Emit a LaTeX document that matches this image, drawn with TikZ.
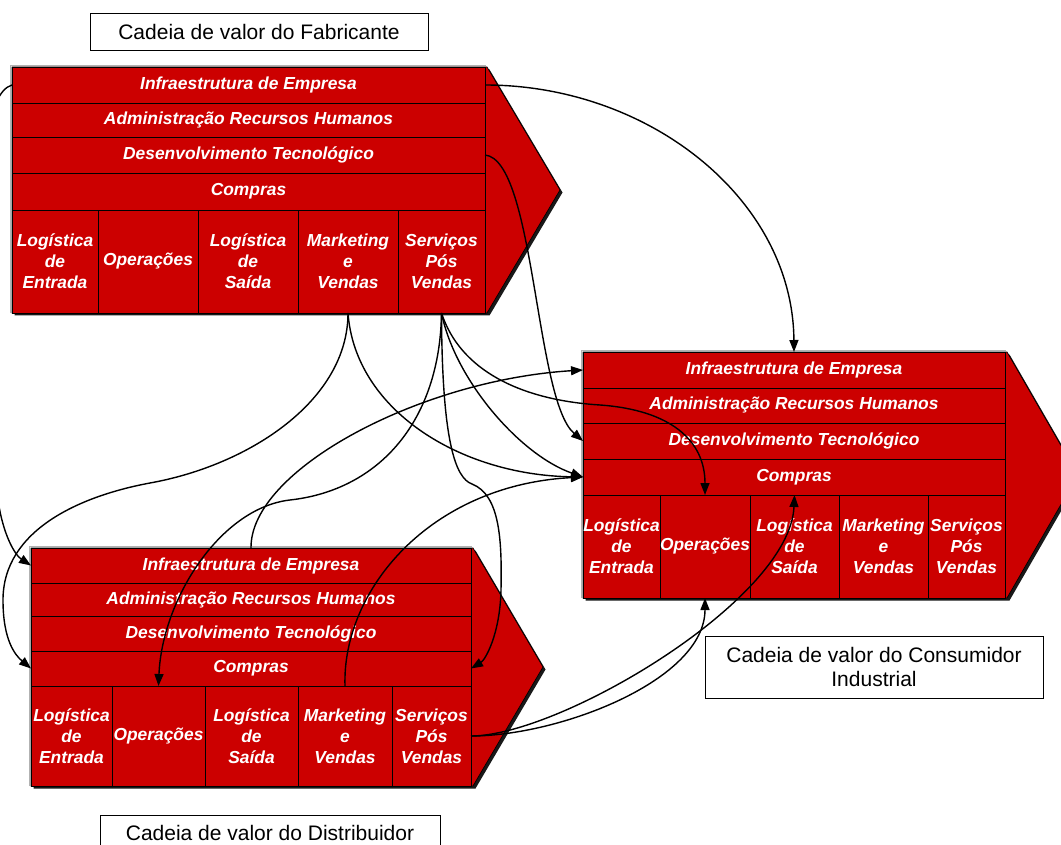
\documentclass[tikz,border=0pt]{standalone}
\usepackage{fontspec}
\setmainfont{Liberation Sans}
\usetikzlibrary{arrows.meta,calc}
\definecolor{chainred}{HTML}{CC0000}

\tikzset{
  cell/.style={draw=black, line width=0.7pt, fill=chainred, text=white,
    inner sep=0pt, outer sep=0pt, align=center,
    font=\fontsize{17.4}{20.8}\selectfont\bfseries\itshape},
  caption/.style={draw=black, line width=0.8pt, fill=white, inner sep=0pt,
    outer sep=0pt, align=center, font=\fontsize{21}{24}\selectfont},
  link/.style={line width=1.4pt, -{Triangle[length=12pt,width=9pt]}},
}

% one cell of a value chain: name, x1, y1, x2, y2, text
\newcommand\vccell[6]{%
  \node[cell, minimum width={#4-#2}, minimum height={#5-#3}] (#1)
    at ({(#2+#4)/2},{(#3+#5)/2}) {#6};}

\def\vcgetx#1,#2,#3,#4,#5,#6\relax{%
  \def\vcXa{#1}\def\vcXb{#2}\def\vcXc{#3}\def\vcXd{#4}\def\vcXe{#5}\def\vcXf{#6}}
\def\vcgety#1,#2,#3,#4,#5,#6\relax{%
  \def\vcYa{#1}\def\vcYb{#2}\def\vcYc{#3}\def\vcYd{#4}\def\vcYe{#5}\def\vcYf{#6}}

% Porter value chain: prefix, column stops, row stops, tip of the chevron
\newcommand\valuechain[4]{%
  \vcgetx#2\relax
  \vcgety#3\relax
  % drop shadow
  \fill[black!90] (\vcXa+2.5,\vcYa+2.5) -- (\vcXf+4.5,\vcYa+2.5) -- ($(#4)+(2.5,2.5)$)
    -- (\vcXf+4.5,\vcYf+2.5) -- (\vcXa+2.5,\vcYf+2.5) -- cycle;
  % body with chevron
  \filldraw[fill=chainred, draw=black, line width=0.7pt]
    (\vcXa,\vcYa) -- (\vcXf+2,\vcYa) -- (#4) -- (\vcXf+2,\vcYf) -- (\vcXa,\vcYf) -- cycle;
  \draw[gray!60, line width=1pt] (\vcXa-1.5,\vcYf) -- (\vcXa-1.5,\vcYa-1.2) -- (\vcXf+1,\vcYa-1.2);
  % support activities
  \vccell{#1-infra}{\vcXa}{\vcYa}{\vcXf}{\vcYb}{Infraestrutura de Empresa}
  \vccell{#1-adm}{\vcXa}{\vcYb}{\vcXf}{\vcYc}{Administração Recursos Humanos}
  \vccell{#1-des}{\vcXa}{\vcYc}{\vcXf}{\vcYd}{Desenvolvimento Tecnológico}
  \vccell{#1-comp}{\vcXa}{\vcYd}{\vcXf}{\vcYe}{Compras}
  % primary activities
  \vccell{#1-le}{\vcXa}{\vcYe}{\vcXb}{\vcYf}{Logística\\de\\Entrada}
  \vccell{#1-op}{\vcXb}{\vcYe}{\vcXc}{\vcYf}{Operações}
  \vccell{#1-ls}{\vcXc}{\vcYe}{\vcXd}{\vcYf}{Logística\\de\\Saída}
  \vccell{#1-mv}{\vcXd}{\vcYe}{\vcXe}{\vcYf}{Marketing\\e\\Vendas}
  \vccell{#1-spv}{\vcXe}{\vcYe}{\vcXf}{\vcYf}{Serviços\\Pós\\Vendas}
}

\begin{document}
\begin{tikzpicture}[x=1pt, y=-1pt]
  \useasboundingbox (0,0) rectangle (1061,845);
  \clip (0,0) rectangle (1061,845);

  % the three value chains
  \valuechain{F}{12,98,198,298,398,485}{67,103,137,173,210,313}{560,190}
  \valuechain{C}{583,660,750,839,928,1005}{352,388,423,459,495,598}{1078,475}
  \valuechain{D}{31,112,205,298,392,471}{548,583,616,651,686,786}{543,667}

  % captions
  \node[caption, minimum width=338, minimum height=37] (capF) at (259,31.5)
    {Cadeia de valor do Fabricante};
  \node[caption, minimum width=338, minimum height=62] (capC) at (874,667)
    {Cadeia de valor do Consumidor\\Industrial};
  \node[caption, minimum width=340, minimum height=36] (capD) at (270,833)
    {Cadeia de valor do Distribuidor};

  % links between the chains
  \draw[link] (F-infra.east) .. controls (650,85) and (793,200) .. (C-infra.north);
  \draw[link] (F-des.east) .. controls (535,160) and (535,400) .. (C-des.west);
  \draw[link] (F-infra.west) .. controls (-40,100) and (-15,400) .. (-2,500)
    .. controls (3,535) and (15,555) .. (D-infra.west);
  \draw[link] (F-mv.south) .. controls (348,400) and (250,465) .. (150,483)
    .. controls (80,496) and (3,530) .. (3,600)
    .. controls (3,640) and (15,655) .. (D-comp.west);
  \draw[link] (F-mv.south) .. controls (355,410) and (460,475) .. (C-comp.west);
  \draw[link] (F-spv.south) .. controls (455,380) and (520,455) .. (C-comp.west);
  \draw[link] (F-spv.south) .. controls (460,370) and (520,400) .. (600,405)
    .. controls (670,410) and (705,440) .. (C-op.north);
  \draw[link] (F-spv.south) .. controls (440,420) and (380,490) .. (290,500)
    .. controls (220,508) and (162,600) .. (D-op.north);
  \draw[link] (F-spv.south) .. controls (442,440) and (455,478) .. (472,484)
    .. controls (500,495) and (502,540) .. (501,590)
    .. controls (500,635) and (485,660) .. (D-comp.east);
  \draw[link] (D-infra.north) .. controls (250,470) and (420,380) .. (C-infra.west);
  \draw[link] (D-mv.north) .. controls (342,590) and (430,485) .. (C-comp.west);
  \draw[link] (D-spv.east) .. controls (560,736) and (705,680) .. (C-op.south);
  \draw[link] (D-spv.east) .. controls (560,736) and (790,600) .. (C-ls.north);
\end{tikzpicture}
\end{document}
